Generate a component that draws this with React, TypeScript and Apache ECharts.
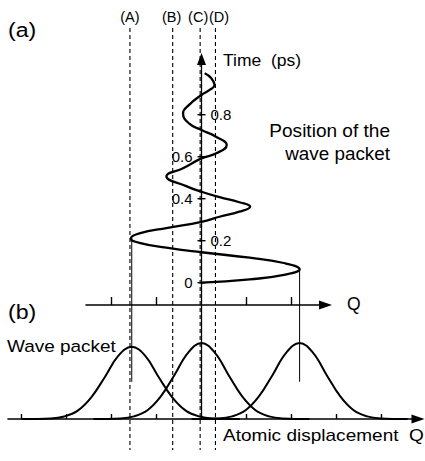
import React, { useEffect, useRef } from "react";
import * as echarts from "echarts";

const FONT = "'Liberation Sans', Arial, Helvetica, sans-serif";

// (a) position of the wave packet: [Q, time (ps)]
const trajectory: [number, number][] = [
  [0.0, 0.0],
  [1.07, 0.016],
  [1.8, 0.036],
  [2.18, 0.064],
  [1.8, 0.095],
  [1.07, 0.119],
  [0.0, 0.145],
  [-0.78, 0.167],
  [-1.38, 0.19],
  [-1.57, 0.211],
  [-1.38, 0.235],
  [-0.75, 0.261],
  [0.0, 0.29],
  [0.4, 0.314],
  [0.84, 0.338],
  [1.08, 0.362],
  [0.84, 0.383],
  [0.4, 0.407],
  [0.0, 0.433],
  [-0.34, 0.46],
  [-0.78, 0.507],
  [-0.41, 0.545],
  [0.0, 0.592],
  [0.33, 0.616],
  [0.56, 0.656],
  [0.33, 0.694],
  [0.0, 0.727],
  [-0.27, 0.757],
  [-0.41, 0.807],
  [-0.27, 0.848],
  [0.0, 0.894],
  [0.18, 0.918],
  [0.29, 0.941],
  [0.22, 0.973],
  [0.07, 0.997],
];

const timeTicks = [0, 0.2, 0.4, 0.6, 0.8];
const timeTickLabels = ["0", "0.2", "0.4", "0.6", "0.8"];
const timeLabelSides = ["left", "right", "left", "left", "right"];

const topQTicks = [-2, -1, 1, 2];
const bottomQTicks = [-4, -3, -2, -1, 1, 2, 3, 4];

// (b) wave packets: [Q, amplitude]
const packetA: [number, number][] = [
  [-4.0, 0], [-3.35, 0.007], [-3.05, 0.033], [-2.75, 0.11], [-2.45, 0.285],
  [-2.15, 0.55], [-1.85, 0.83], [-1.55, 0.95], [-1.25, 0.83], [-0.95, 0.55],
  [-0.65, 0.285], [-0.35, 0.11], [-0.05, 0.033], [0.25, 0.007], [0.85, 0],
];
const packetC: [number, number][] = [
  [-2.4, 0], [-1.8, 0.008], [-1.5, 0.035], [-1.2, 0.115], [-0.9, 0.3],
  [-0.6, 0.58], [-0.3, 0.87], [0, 1], [0.3, 0.87], [0.6, 0.58],
  [0.9, 0.3], [1.2, 0.115], [1.5, 0.035], [1.8, 0.008], [2.4, 0],
];
const packetE: [number, number][] = [
  [-0.22, 0], [0.38, 0.008], [0.68, 0.035], [0.98, 0.115], [1.28, 0.3],
  [1.58, 0.58], [1.88, 0.87], [2.18, 1], [2.48, 0.87], [2.78, 0.58],
  [3.08, 0.3], [3.38, 0.115], [3.68, 0.035], [3.98, 0.008], [4.58, 0],
];

// turning points of the trajectory and where the packets sit
const turnQ = [-1.55, 2.18];
const turnT = [0.211, 0.064];
const packetQ = [-1.55, 0, 2.18];

const markerNames = ["(A)", "(B)", "(C)", "(D)"];
const markerQ = [-1.59, -0.64, -0.03, 0.31];
const markerLabelShift = [0, -1, -2, 3.5];

const Q_TOP_MIN = -2.5667;
const Q_TOP_MAX = 2.7556;
const T_MIN = -0.1062;
const T_MAX = 1.0652;
const Q_BOT_MIN = -4.3;
const Q_BOT_MAX = 4.8111;
const AMP_MAX = 1.5;

export default function App() {
  const ref = useRef<HTMLDivElement>(null);

  useEffect(() => {
    if (!ref.current) return;
    const chart = echarts.init(ref.current, null, { renderer: "svg" });
    const black = "#000";

    const series: any[] = [];

    // trajectory
    series.push({
      type: "line",
      xAxisIndex: 0,
      yAxisIndex: 0,
      data: trajectory,
      smooth: 0.5,
      showSymbol: false,
      symbol: "none",
      clip: false,
      lineStyle: { color: black, width: 2.3 },
      z: 5,
    });

    // time ticks & labels
    series.push({
      type: "scatter",
      xAxisIndex: 0,
      yAxisIndex: 0,
      symbol: "rect",
      symbolSize: [8, 1.4],
      itemStyle: { color: black, opacity: 1 },
      label: { show: true, fontSize: 15, fontFamily: FONT, color: black },
      data: timeTicks.map((t, i) => ({
        value: [0, t],
        label: {
          show: true,
          position: timeLabelSides[i],
          distance: 5,
          formatter: timeTickLabels[i],
          fontSize: 15,
          fontFamily: FONT,
          color: black,
          opacity: 1,
        },
      })),
      z: 6,
    });

    // solid vertical lines from turning points
    turnQ.forEach((q, i) => {
      series.push({
        type: "line",
        xAxisIndex: 0,
        yAxisIndex: 0,
        data: [[q, turnT[i]], [q, T_MIN]],
        symbol: "none",
        clip: false,
        lineStyle: { color: black, width: 1 },
      });
    });

    // bottom panel solid lines
    packetQ.forEach((q) => {
      series.push({
        type: "line",
        xAxisIndex: 1,
        yAxisIndex: 1,
        data: q === 0 ? [[q, AMP_MAX], [q, 0]] : [[q, AMP_MAX], [q, 0.49]],
        symbol: "none",
        clip: false,
        lineStyle: { color: black, width: q === 0 ? 1.3 : 1 },
      });
    });

    [packetA, packetC, packetE].forEach((p) => {
      series.push({
        type: "line",
        xAxisIndex: 1,
        yAxisIndex: 1,
        data: p,
        smooth: 0.4,
        symbol: "none",
        clip: false,
        lineStyle: { color: black, width: 2 },
        z: 4,
      });
    });

    // dashed markers (overlay)
    markerQ.forEach((q) => {
      series.push({
        type: "line",
        xAxisIndex: 2,
        yAxisIndex: 2,
        data: [[q, 28], [q, 450]],
        symbol: "none",
        clip: false,
        lineStyle: { color: black, width: 1.1, type: [4, 3] },
        z: 1,
      });
    });
    series.push({
      type: "scatter",
      xAxisIndex: 2,
      yAxisIndex: 2,
      symbol: "circle",
      symbolSize: 1,
      itemStyle: { color: "rgba(0,0,0,0)", opacity: 1 },
      data: markerQ.map((q, i) => ({
        value: [q, 17],
        label: {
          show: true,
          position: "inside",
          offset: [markerLabelShift[i], 0],
          formatter: markerNames[i],
          fontSize: 14.5,
          fontFamily: FONT,
          color: black,
        },
      })),
      z: 6,
    });

    const hiddenAxis = {
      show: false,
    };

    const textStyle = (
      text: string,
      x: number,
      y: number,
      size: number,
      scaleX: number,
      align: string = "left"
    ) => ({
      type: "text",
      x,
      y,
      scaleX,
      style: {
        text,
        fontSize: size,
        fontFamily: FONT,
        fill: black,
        align,
        verticalAlign: "middle",
      },
    });

    chart.setOption({
      animation: false,
      backgroundColor: "#fff",
      grid: [
        { left: 86, top: 59, width: 239.5, height: 246, containLabel: false, outerBoundsMode: "none" },
        { left: 8, top: 305, width: 410, height: 114, containLabel: false, outerBoundsMode: "none" },
        { left: 8, top: 0, width: 410, height: 461, containLabel: false, outerBoundsMode: "none" },
      ],
      xAxis: [
        {
          type: "value",
          gridIndex: 0,
          min: Q_TOP_MIN,
          max: Q_TOP_MAX,
          position: "bottom",
          axisLine: {
            show: true,
            onZero: false,
            symbol: ["none", "triangle"],
            symbolSize: [9, 13],
            lineStyle: { color: black, width: 1.6 },
          },
          axisTick: {
            show: true,
            inside: true,
            length: 8,
            customValues: topQTicks,
            lineStyle: { color: black, width: 1.4 },
          },
          axisLabel: { show: false },
          splitLine: { show: false },
        },
        {
          type: "value",
          gridIndex: 1,
          min: Q_BOT_MIN,
          max: Q_BOT_MAX,
          position: "bottom",
          axisLine: {
            show: true,
            onZero: false,
            symbol: ["none", "triangle"],
            symbolSize: [9, 13],
            lineStyle: { color: black, width: 1.6 },
          },
          axisTick: {
            show: true,
            inside: true,
            length: 5,
            customValues: bottomQTicks,
            lineStyle: { color: black, width: 1.4 },
          },
          axisLabel: { show: false },
          splitLine: { show: false },
        },
        { type: "value", gridIndex: 2, min: Q_BOT_MIN, max: Q_BOT_MAX, ...hiddenAxis },
      ],
      yAxis: [
        {
          type: "value",
          gridIndex: 0,
          min: T_MIN,
          max: T_MAX,
          axisLine: {
            show: true,
            onZero: true,
            symbol: ["none", "triangle"],
            symbolSize: [9, 12],
            lineStyle: { color: black, width: 1.3 },
          },
          axisTick: { show: false },
          axisLabel: { show: false },
          splitLine: { show: false },
        },
        { type: "value", gridIndex: 1, min: 0, max: AMP_MAX, ...hiddenAxis },
        { type: "value", gridIndex: 2, min: 0, max: 461, inverse: true, ...hiddenAxis },
      ],
      graphic: [
        textStyle("(a)", 8, 30, 21, 1.1),
        textStyle("(b)", 8, 312, 21, 1.1),
        textStyle("Wave packet", 7, 346, 16.5, 1.15),
        textStyle("Time  (ps)", 223, 60, 17, 1.03),
        textStyle("Position of the", 390, 131, 18.5, 1.03, "right"),
        textStyle("wave packet", 390, 154, 18.5, 1.02, "right"),
        textStyle("Q", 347, 304, 17.5, 1.0),
        textStyle("Atomic displacement  Q", 223, 435, 17, 1.12),
      ],
      series,
    });

    return () => chart.dispose();
  }, []);

  return (
    <div
      ref={ref}
      style={{ position: "absolute", left: 0, top: 0, width: 425, height: 461 }}
    />
  );
}
